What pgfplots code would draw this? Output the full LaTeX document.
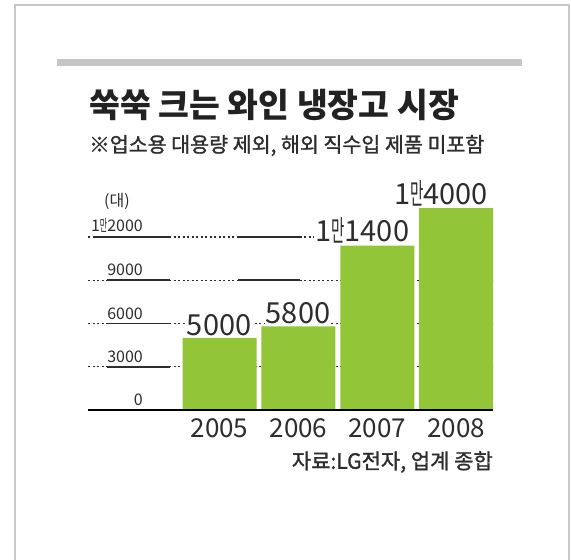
\documentclass[border=0pt]{standalone}
\usepackage{fontspec}
\usepackage{pgfplots}
\pgfplotsset{compat=1.18}
\setmainfont{Noto Sans CJK KR}
\newfontfamily\cjksub[FakeBold=1.3]{Noto Sans CJK KR}
\newfontfamily\cjknarrow[FakeStretch=0.5]{Noto Sans CJK KR}
\protected\def\man{{\cjknarrow 만}}
\definecolor{barcol}{RGB}{146,198,56}
\definecolor{framegray}{RGB}{200,200,200}
\definecolor{topbar}{RGB}{198,198,198}
\definecolor{titlecol}{RGB}{34,34,34}
\definecolor{textcol}{RGB}{45,45,45}
\begin{document}
\begin{tikzpicture}[x=1pt,y=1pt]
\useasboundingbox (0,0) rectangle (571,560);
\fill[white] (0,0) rectangle (571,560);
\draw[line width=2pt, framegray] (14.5,-10) -- (14.5,555) -- (569,555) -- (569,-10);
\fill[topbar] (57,494) rectangle (522,501);
\node[anchor=west, inner sep=0pt, text=titlecol, font=\fontsize{33.5}{36}\selectfont\bfseries] at (89,455.5) {쑥쑥 크는 와인 냉장고 시장};
\node[anchor=west, inner sep=0pt, text=textcol, font=\fontsize{20.6}{22}\selectfont\cjksub] at (89,414.5) {※업소용 대용량 제외, 해외 직수입 제품 미포함};
\node[inner sep=0pt, text=textcol, font=\fontsize{16}{18}\selectfont] at (117,359) {(대)};
\node[anchor=east, inner sep=0pt, text=textcol, font=\fontsize{21}{22}\selectfont\cjksub] at (493,98) {자료:LG전자, 업계 종합};
\begin{axis}[
  at={(88pt,150pt)}, anchor=south west,
  scale only axis, width=405pt, height=223.5pt,
  xmin=-1.667, xmax=3.466, ymin=0, ymax=15500,
  scaled y ticks=false,
  axis line style={draw=none},
  major tick length=0pt,
  xtick={0,1,2,3}, xticklabels={2005,2006,2007,2008},
  xticklabel style={font=\fontsize{26}{26}\selectfont, text=textcol, inner sep=0pt, anchor=north, yshift=-8pt},
  ytick={0,3000,6000,9000,12000},
  yticklabels={0,3000,6000,9000,{1\man2000}},
  yticklabel style={font=\fontsize{16}{16}\selectfont, text=textcol, inner sep=0pt, anchor=south east, xshift=55pt, yshift=4pt},
  ybar, bar width=74pt,
  clip=false,
  point meta=explicit symbolic,
  nodes near coords={\pgfplotspointmeta},
  nodes near coords style={font=\fontsize{29}{29}\selectfont, text=textcol, fill=white, inner sep=1pt, anchor=south east, xshift=33pt, yshift=1pt},
]
% dotted grid lines
\draw[textcol, line width=1.3pt, dash pattern=on 2pt off 2.5pt] (axis cs:-1.667,12000) -- (axis cs:1.34,12000);
\draw[textcol, line width=1.3pt, dash pattern=on 2pt off 2.5pt] (axis cs:-1.667,9000) -- (axis cs:3.466,9000);
\draw[textcol, line width=1.3pt, dash pattern=on 2pt off 2.5pt] (axis cs:-1.667,6000) -- (axis cs:3.466,6000);
\draw[textcol, line width=1.3pt, dash pattern=on 2pt off 2.5pt] (axis cs:-1.667,3000) -- (axis cs:3.466,3000);
\addplot[fill=barcol, draw=none] coordinates {
  (0,5000) [5000]
  (1,5800) [5800]
  (2,11400) [{1\man1400}]
  (3,14000) [{1\man4000}]
};
% solid segments
\draw[textcol, line width=1.6pt] (axis cs:-1.603,12000) -- (axis cs:-0.627,12000);
\draw[textcol, line width=1.6pt] (axis cs:0.234,12000) -- (axis cs:1.020,12000);
\draw[textcol, line width=1.6pt] (axis cs:-1.426,9000) -- (axis cs:-0.627,9000);
\draw[textcol, line width=1.6pt] (axis cs:0.234,9000) -- (axis cs:1.020,9000);
\draw[textcol, line width=1.6pt] (axis cs:-1.426,6000) -- (axis cs:-0.627,6000);
\draw[textcol, line width=1.6pt] (axis cs:-1.426,3000) -- (axis cs:-0.627,3000);
\draw[black, line width=2.2pt] (axis cs:-1.667,0) -- (axis cs:3.466,0);
\end{axis}
\end{tikzpicture}
\end{document}
